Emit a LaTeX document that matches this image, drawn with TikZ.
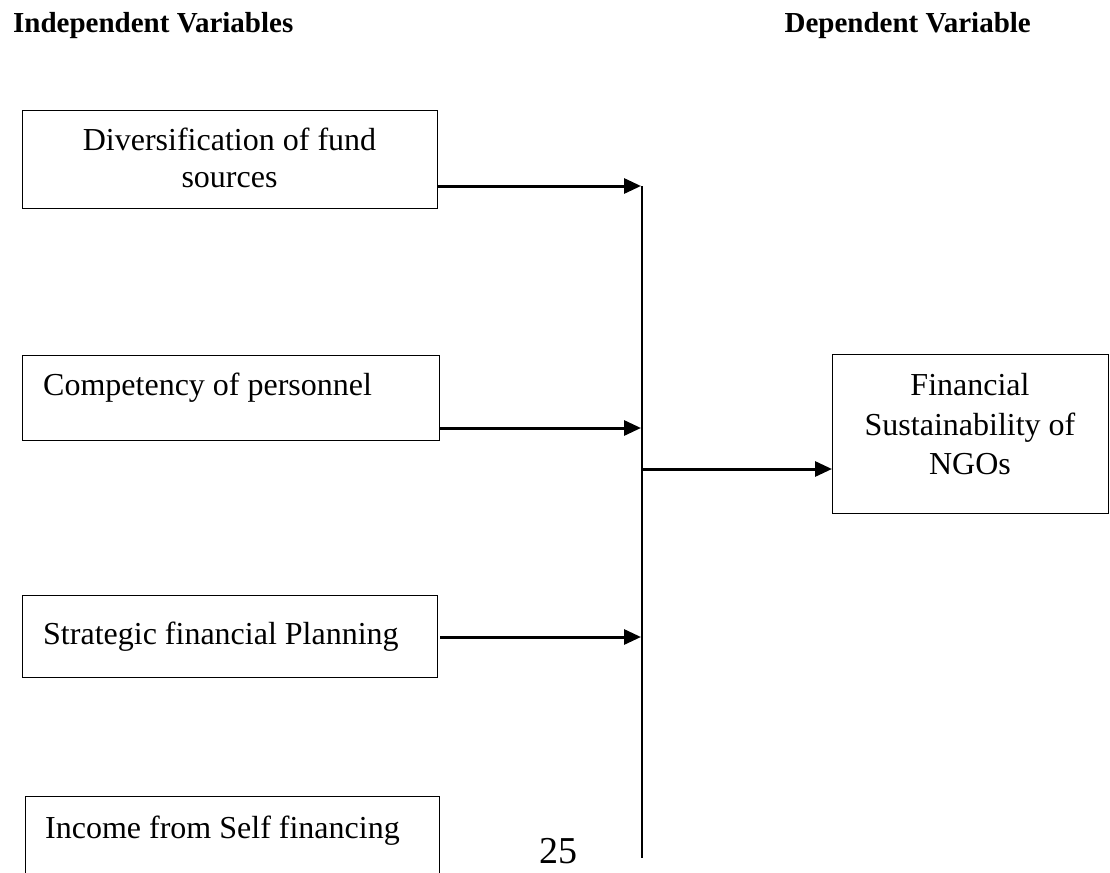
\documentclass[tikz,border=0pt]{standalone}
\usepackage{fontspec}
\setmainfont{Liberation Serif}
\usetikzlibrary{arrows.meta}
\tikzset{
  box/.style={draw, line width=1.4pt, rectangle, inner sep=0pt, anchor=north west},
  txt/.style={inner sep=0pt, font=\fontsize{32}{37}\selectfont},
  head/.style={inner sep=0pt, anchor=base west, font=\fontsize{29}{34}\selectfont\bfseries},
  arr/.style={line width=3pt, -{Triangle[length=17pt,width=15pt]}},
  vline/.style={line width=2pt},
}
\begin{document}
\begin{tikzpicture}[x=1pt,y=-1pt]
\clip (0,0) rectangle (1110,872);
\fill[white] (0,0) rectangle (1110,872);
% headers
\node[head] (h1) at (13,33) {Independent Variables};
\node[head, anchor=base east] (h2) at (1031,33) {Dependent Variable};
% boxes
\node[box, minimum width=415pt, minimum height=98pt] (b1) at (22,110) {};
\node[box, minimum width=417pt, minimum height=85pt] (b2) at (22,355) {};
\node[box, minimum width=415pt, minimum height=82pt] (b3) at (22,595) {};
\node[box, minimum width=414pt, minimum height=100pt] (b4) at (25,796) {};
\node[box, minimum width=276pt, minimum height=159pt] (ngo) at (832,354) {};
% texts
\node[txt, anchor=base] (t1a) at (229.5,150) {Diversification of fund};
\node[txt, anchor=base] (t1b) at (229.5,187) {sources};
\node[txt, anchor=base west] (t2) at (43,395) {Competency of personnel};
\node[txt, anchor=base west] (t3) at (43,644) {Strategic financial Planning};
\node[txt, anchor=base west] (t4) at (45,838) {Income from Self financing};
\node[txt, anchor=base] (n1) at (970,395) {Financial};
\node[txt, anchor=base] (n2) at (970,435) {Sustainability of};
\node[txt, anchor=base] (n3) at (970,474) {NGOs};
\node[inner sep=0pt, anchor=base, font=\fontsize{38}{42}\selectfont] (pg) at (558,863) {25};
% vertical collector line
\coordinate (vt) at (642,186);
\coordinate (vb) at (642,858);
\coordinate (j2) at (642,428);
\coordinate (j3) at (642,637);
\coordinate (jo) at (642,469);
\draw[vline] (vt) -- (vb);
% arrows
\draw[arr] (b1.east |- vt) -- ([xshift=-1pt]vt);
\draw[arr] (b2.east |- j2) -- ([xshift=-1pt]j2);
\draw[arr] ([xshift=2pt]b3.east |- j3) -- ([xshift=-1pt]j3);
\draw[arr] (jo) -- (ngo.west |- jo);
\end{tikzpicture}
\end{document}
